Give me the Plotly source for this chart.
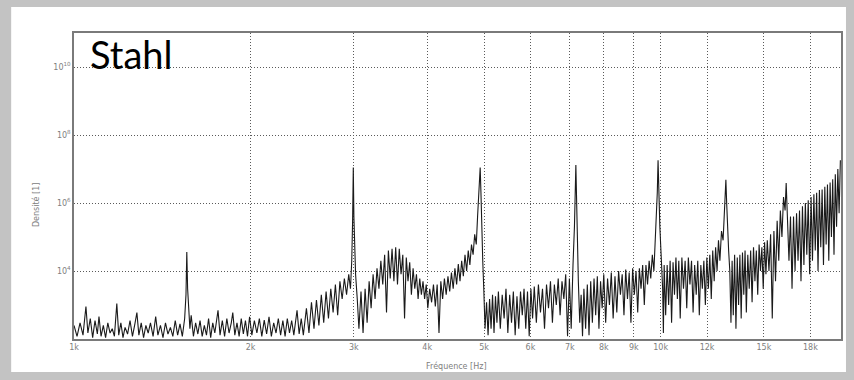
import plotly.graph_objects as go

# ---- data ----
X_TICK_VALUES = [1000, 2000, 3000, 4000, 5000, 6000, 7000, 8000, 9000, 10000, 12000, 15000, 18000]
X_TICK_LABELS = ["1k", "2k", "3k", "4k", "5k", "6k", "7k", "8k", "9k", "10k", "12k", "15k", "18k"]
Y_TICK_VALUES = [1e4, 1e6, 1e8, 1e10]
Y_TICK_LABELS = ["10<sup>4</sup>", "10<sup>6</sup>", "10<sup>8</sup>", "10<sup>10</sup>"]

FREQ_HZ = [
    1000, 1012, 1024, 1036, 1048, 1056, 1066, 1076, 1086, 1096,
    1103, 1112, 1122, 1132, 1142, 1152, 1162, 1172, 1183, 1192,
    1202, 1212, 1222, 1234, 1246, 1258, 1270, 1280, 1290, 1302,
    1314, 1326, 1338, 1350, 1364, 1378, 1390, 1404, 1418, 1432,
    1446, 1460, 1474, 1488, 1502, 1516, 1530, 1544, 1552, 1557,
    1562, 1568, 1576, 1584, 1598, 1612, 1626, 1640, 1654, 1668,
    1682, 1696, 1710, 1724, 1738, 1760, 1774, 1790, 1806, 1822,
    1838, 1854, 1865, 1880, 1896, 1912, 1928, 1944, 1960, 1976,
    1992, 2010, 2030, 2050, 2070, 2090, 2110, 2130, 2150, 2170,
    2190, 2210, 2230, 2250, 2270, 2290, 2310, 2330, 2350, 2370,
    2400, 2420, 2440, 2460,
    2490, 2515, 2540, 2565, 2590, 2615, 2640, 2665, 2690, 2715,
    2740, 2765, 2790, 2815, 2840, 2865, 2890, 2915, 2940, 2960,
    2975, 2985, 2993, 3000, 3008, 3020,
    3040, 3060, 3085, 3110, 3135, 3160, 3185, 3210, 3235, 3260,
    3285, 3310, 3335, 3360, 3385, 3410, 3435, 3460, 3485, 3510,
    3535, 3560, 3585, 3610, 3635, 3660, 3685, 3710, 3735, 3760,
    3785, 3810, 3835, 3860, 3885, 3910, 3935, 3960, 3985, 4010,
    4040, 4070, 4100, 4130, 4160, 4190, 4220, 4250, 4280, 4310,
    4340, 4370, 4400, 4430, 4460, 4490, 4520, 4550, 4580, 4610,
    4640, 4670, 4700, 4730, 4760, 4790, 4820, 4850, 4875, 4900,
    4925, 4940, 4955, 4975, 4995,
    5020, 5050, 5080, 5110, 5140, 5170, 5200, 5230, 5260, 5290,
    5330, 5370, 5410, 5450, 5490, 5530, 5570, 5610, 5650, 5690,
    5730, 5770, 5810, 5850, 5890, 5930, 5970, 6010, 6050, 6090,
    6140, 6190, 6240, 6290, 6340, 6390, 6440, 6490, 6540, 6590,
    6640, 6690, 6740, 6790, 6840, 6890, 6940, 6990, 7040, 7090,
    7130, 7170, 7200, 7240, 7280,
    7320, 7360, 7400, 7450, 7500, 7550, 7600, 7650, 7700, 7750,
    7800, 7850, 7900, 7950, 8000, 8060, 8120, 8180, 8240, 8300,
    8360, 8420, 8480, 8540, 8600, 8660, 8720, 8780, 8840, 8900,
    8960, 9020, 9080, 9140, 9200, 9260, 9320, 9380, 9440, 9500,
    9560, 9620, 9680, 9740, 9790, 9830, 9870, 9900, 9930, 9970,
    10020, 10080, 10110,
    10140, 10200, 10260, 10320, 10380, 10440, 10500, 10560, 10620, 10680,
    10740, 10800, 10870, 10940, 11010, 11080, 11150, 11220, 11290, 11360,
    11430, 11500, 11570, 11640, 11710, 11780, 11850, 11920, 11990, 12060,
    12130, 12200, 12270, 12340, 12410, 12480, 12550, 12620, 12700, 12780,
    12850, 12920, 12960, 13000, 13060, 13120, 13180, 13240, 13300, 13370,
    13440, 13510, 13580, 13650, 13720, 13790, 13860, 13930, 14000, 14080,
    14160, 14240, 14320, 14400, 14480, 14560, 14640, 14720, 14800, 14880,
    14960, 15040, 15120, 15200, 15300, 15400, 15500, 15600, 15700, 15800,
    15900, 16000, 16100, 16200, 16300, 16370, 16450, 16550, 16650, 16750,
    16850, 16950, 17050, 17150, 17250, 17350, 17450, 17550, 17650, 17750,
    17850, 17950, 18050, 18150, 18250, 18350, 18450, 18550, 18650, 18750,
    18850, 18950, 19050, 19150, 19250, 19350, 19450, 19550, 19650, 19750,
    19850, 19950, 20050, 20150, 20250,
]

DENSITY = [
    250, 120, 300, 130, 900, 150, 400, 110, 350, 140,
    460, 120, 250, 110, 300, 150, 200, 120, 1100, 130,
    300, 110, 220, 140, 350, 120, 280, 600, 130, 300,
    110, 250, 150, 300, 120, 460, 130, 250, 110, 300,
    140, 220, 120, 350, 130, 280, 120, 400, 2000, 36000,
    3000, 1200, 200, 500, 120, 300, 140, 350, 120, 250,
    130, 400, 110, 300, 150, 700, 130, 350, 120, 400,
    150, 300, 600, 130, 300, 120, 400, 140, 350, 120,
    450, 130, 350, 150, 400, 120, 360, 140, 450, 120,
    300, 150, 400, 130, 350, 120, 400, 150, 350, 130,
    700, 140, 400, 130,
    800, 150, 1200, 200, 1400, 250, 2000, 300, 2500, 400,
    3000, 600, 4000, 500, 5000, 1500, 6000, 2000, 8000, 3000,
    20000, 3e5, 1.1e7, 4e5, 3e4, 8000,
    1500, 200, 2500, 150, 3000, 300, 5000, 800, 8000, 1500,
    12000, 3000, 20000, 4000, 30000, 600, 40000, 6000, 45000, 5000,
    50000, 4000, 45000, 8000, 30000, 400, 25000, 5000, 18000, 2000,
    12000, 3000, 8000, 1500, 6000, 2000, 5000, 1500, 4000, 800,
    3000, 1200, 4000, 900, 4000, 150, 5000, 1500, 6000, 2000,
    7000, 2500, 9000, 3000, 12000, 4000, 16000, 5000, 20000, 7000,
    30000, 10000, 40000, 15000, 60000, 30000, 1.2e5, 60000, 4e5, 2e6,
    1.1e7, 2e6, 1.5e5, 20000, 3000,
    200, 1200, 130, 1500, 200, 2000, 150, 1800, 300, 2500,
    200, 2000, 400, 3000, 150, 2000, 300, 2500, 130, 1800,
    200, 2500, 500, 3000, 200, 2500, 120, 3000, 400, 3500,
    300, 4000, 600, 3000, 200, 4000, 800, 5000, 300, 4000,
    1000, 6000, 500, 5000, 1500, 8000, 120, 6000, 200, 15000,
    2e5, 1.3e7, 1.5e5, 5000, 300,
    2000, 120, 3000, 200, 4000, 130, 5000, 300, 6000, 500,
    7000, 200, 5000, 800, 8000, 300, 6000, 1000, 9000, 400,
    7000, 600, 10000, 2000, 8000, 500, 11000, 1500, 9000, 300,
    12000, 2000, 10000, 600, 12000, 3000, 15000, 1000, 15000, 4000,
    20000, 6000, 30000, 10000, 60000, 3e5, 2e6, 1.8e7, 2e6, 2e5,
    30000, 3000, 150,
    15000, 500, 15000, 1000, 20000, 300, 18000, 2000, 25000, 1500,
    20000, 400, 25000, 3000, 20000, 800, 25000, 4000, 20000, 600,
    15000, 2000, 20000, 500, 15000, 3000, 20000, 1000, 25000, 3000,
    30000, 1500, 40000, 5000, 50000, 10000, 80000, 20000, 1.5e5, 80000,
    8e5, 4.8e6, 1e6, 2e5, 40000, 10000, 300, 20000, 500, 30000,
    200, 25000, 1000, 30000, 400, 35000, 2000, 40000, 600, 30000,
    3000, 40000, 1200, 50000, 5000, 40000, 2000, 60000, 10000, 50000,
    3000, 70000, 8000, 80000, 10000, 1.2e5, 400, 1.5e5, 5000, 3e5,
    20000, 6e5, 1e5, 1.5e6, 6e5, 3.9e6, 3e5, 20000, 4e5, 3000,
    4e5, 10000, 5e5, 20000, 6e5, 5000, 8e5, 15000, 1e6, 30000,
    1.2e6, 8000, 1.5e6, 20000, 1.8e6, 40000, 2e6, 10000, 2.4e6, 50000,
    2.5e6, 15000, 3e6, 60000, 3.5e6, 20000, 4e6, 1e5, 5e6, 30000,
    7e6, 2e5, 1e7, 5e5, 1.8e7,
]

assert len(FREQ_HZ) == len(DENSITY), (len(FREQ_HZ), len(DENSITY))

# ---- layout geometry (pixels) ----
W, H = 854, 380
L, R, T, B = 74, 11, 33, 41
PW, PH = W - L - R, H - T - B
GRAY = "#c3c3c3"


def px_x(x):
    return (x - L) / PW


def px_y(y):
    return (H - B - y) / PH


fig = go.Figure()
fig.add_trace(go.Scatter(
    x=FREQ_HZ, y=DENSITY, mode="lines",
    line=dict(color="#1a1a1a", width=1.1),
    hoverinfo="skip", showlegend=False,
))

axis_common = dict(
    showgrid=True, gridcolor="#5a5a5a", griddash="1px,2px", gridwidth=1,
    showline=True, linecolor="#7a7a7a", linewidth=1.5, mirror=True,
    ticks="", zeroline=False,
    tickfont=dict(family="DejaVu Sans", size=8, color="#808080"),
)

fig.update_xaxes(type="log", range=[3, 4.3075], tickvals=X_TICK_VALUES,
                 ticktext=X_TICK_LABELS, **axis_common)
fig.update_yaxes(type="log", range=[2, 11], tickvals=Y_TICK_VALUES,
                 ticktext=Y_TICK_LABELS, **axis_common)

fig.update_layout(
    width=W, height=H, autosize=False,
    margin=dict(l=L, r=R, t=T, b=B, pad=0),
    paper_bgcolor=GRAY, plot_bgcolor="white",
    shapes=[dict(type="rect", xref="paper", yref="paper",
                 x0=px_x(11), x1=px_x(848), y0=px_y(372), y1=px_y(7),
                 fillcolor="white", line=dict(width=0), layer="below")],
    annotations=[
        dict(text="Stahl", xref="paper", yref="paper", x=px_x(88), y=px_y(54),
             xanchor="left", yanchor="middle", showarrow=False,
             font=dict(family="Lato", size=38, color="black")),
        dict(text="Fréquence [Hz]", xref="paper", yref="paper",
             x=px_x(457), y=px_y(366), xanchor="center", yanchor="middle",
             showarrow=False, font=dict(family="DejaVu Sans", size=8, color="#808080")),
        dict(text="Densité [1]", xref="paper", yref="paper",
             x=px_x(36), y=px_y(205), xanchor="center", yanchor="middle",
             textangle=-90, showarrow=False,
             font=dict(family="DejaVu Sans", size=8, color="#808080")),
    ],
)

fig.write_html(
    "out.html",
    config={"displayModeBar": False},
    post_script=(
        "document.documentElement.style.margin='0';"
        "document.body.style.margin='0';"
        "document.body.style.background='" + GRAY + "';"
    ),
)
